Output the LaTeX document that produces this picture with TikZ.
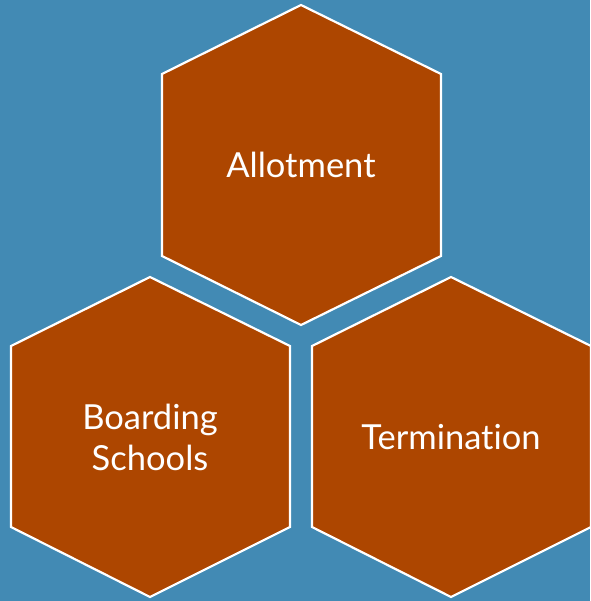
\documentclass[tikz,border=0pt]{standalone}
\usepackage{fontspec}
\setmainfont{Lato}[Ligatures={NoCommon,NoRare,NoDiscretionary}]
\definecolor{bgblue}{RGB}{66,138,180}
\definecolor{rust}{RGB}{173,70,0}
\tikzset{
  hexbox/.style={fill=rust,draw=white,line width=2.2pt,line join=miter},
  hexlabel/.style={text=white,font=\fontsize{34.5}{41}\selectfont,align=center,inner sep=0pt}
}
\begin{document}
\begin{tikzpicture}[x=1pt,y=-1pt]
\fill[bgblue] (0,0) rectangle (590,601);
\useasboundingbox (0,0) rectangle (590,601);
% top hexagon
\draw[hexbox] (301,5) -- (441,74) -- (441,256) -- (301,325) -- (162,256) -- (162,74) -- cycle;
\node[hexlabel] (allot) at (301,165) {Allotment};
% bottom-left hexagon
\draw[hexbox] (150,277) -- (290,346) -- (290,527) -- (150,597) -- (11,527) -- (11,346) -- cycle;
\node[hexlabel] (board) at (150,437) {Boarding\\Schools};
% bottom-right hexagon
\draw[hexbox] (451,277) -- (591,346) -- (591,527) -- (451,597) -- (312,527) -- (312,346) -- cycle;
\node[hexlabel] (term) at (451,437) {Terminat\kern0pt ion};
\end{tikzpicture}
\end{document}
